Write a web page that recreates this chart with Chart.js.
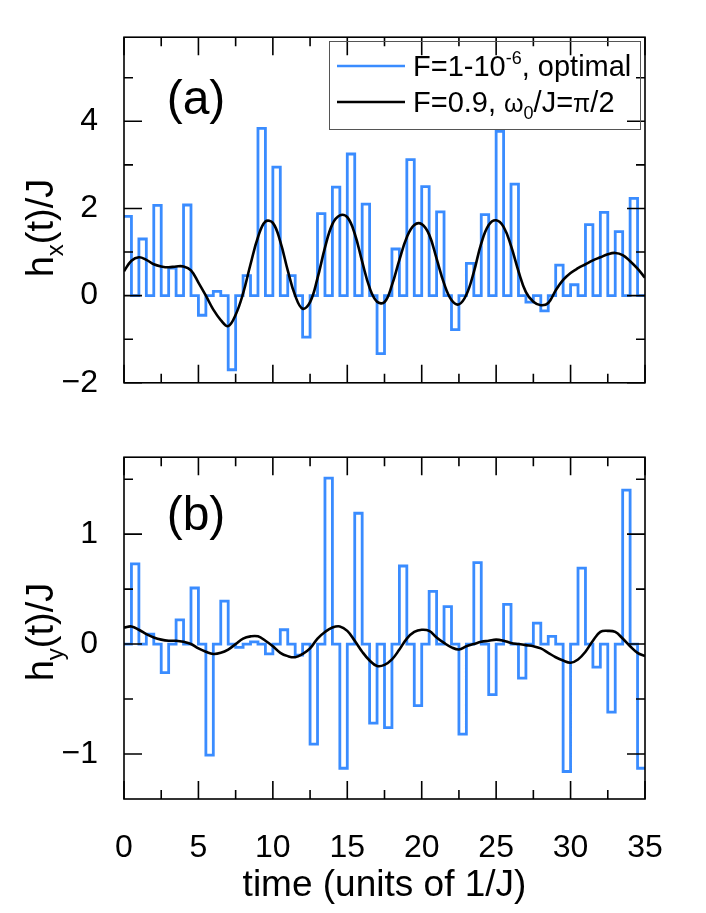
<!DOCTYPE html>
<html>
<head>
<meta charset="utf-8">
<script src="https://cdn.jsdelivr.net/npm/chart.js@4.4.1/dist/chart.umd.min.js"></script>
<style>
  body { margin: 0; background: #fff; }
  #wrap { position: relative; width: 706px; height: 913px; }
  canvas { position: absolute; left: 0; }
</style>
</head>
<body>
<div id="wrap">
  <canvas id="panelA" width="706" height="420" style="top:0"></canvas>
  <canvas id="panelB" width="706" height="493" style="top:420px"></canvas>
</div>
<script>
// pulse amplitudes, one per unit of time: hx on [k, k+0.5], hy on [k+0.5, k+1]
const hxPulse = [1.82, 1.30, 2.07, 0.63, 2.08, -0.45, 0.10, -1.70, 0.46, 3.84,
                 2.95, 0.46, -0.95, 1.88, 2.49, 3.25, 2.10, -1.33, 1.07, 3.12,
                 2.50, 1.92, -0.78, 0.74, 1.86, 3.77, 2.56, -0.15, -0.35, 0.70,
                 0.25, 1.63, 1.91, 1.47, 2.23];
const hyPulse = [0.73, 0.09, -0.26, 0.22, 0.51, -1.01, 0.39, -0.03, 0.02, -0.09,
                 0.13, -0.10, -0.91, 1.51, -1.13, 1.19, -0.72, -0.76, 0.71, -0.56,
                 0.48, 0.34, -0.82, 0.74, -0.46, 0.36, -0.31, 0.19, 0.07, -1.16,
                 0.69, -0.21, -0.62, 1.40, -1.13];

// smooth control (F=0.9)
const curveTime = [0, 0.5, 1, 1.5, 2, 2.5, 3, 3.5, 4, 4.5, 5, 5.5, 6, 6.5, 7, 7.5, 8, 8.5, 9, 9.5,
                   10, 10.5, 11, 11.5, 12, 12.5, 13, 13.5, 14, 14.5, 15, 15.5, 16, 16.5, 17, 17.5,
                   18, 18.5, 19, 19.5, 20, 20.5, 21, 21.5, 22, 22.5, 23, 23.5, 24, 24.5, 25, 25.5,
                   26, 26.5, 27, 27.5, 28, 28.5, 29, 29.5, 30, 30.5, 31, 31.5, 32, 32.5, 33, 33.5,
                   34, 34.5, 35];
const hxCurve = [0.56, 0.80, 0.88, 0.82, 0.72, 0.67, 0.65, 0.67, 0.67, 0.58,
                 0.30, 0.00, -0.32, -0.56, -0.70, -0.44, 0.05, 0.72, 1.34, 1.70,
                 1.67, 1.24, 0.58, 0.00, -0.30, -0.15, 0.40, 1.10, 1.64, 1.84,
                 1.80, 1.42, 0.78, 0.18, -0.14, -0.15, 0.24, 0.82, 1.34, 1.62,
                 1.64, 1.40, 0.85, 0.28, -0.10, -0.20, 0.02, 0.54, 1.20, 1.62,
                 1.73, 1.58, 1.14, 0.56, 0.08, -0.14, -0.22, -0.17, 0.12, 0.36,
                 0.52, 0.63, 0.72, 0.81, 0.88, 0.95, 0.98, 0.93, 0.79, 0.62,
                 0.41];
const hyCurve = [0.15, 0.16, 0.13, 0.09, 0.06, 0.04, 0.03, 0.03, 0.02, 0.00,
                 -0.04, -0.07, -0.09, -0.08, -0.05, 0.00, 0.05, 0.07, 0.07, 0.03,
                 -0.02, -0.08, -0.11, -0.12, -0.09, -0.04, 0.05, 0.11, 0.15, 0.16,
                 0.12, 0.03, -0.07, -0.15, -0.20, -0.19, -0.14, -0.05, 0.05, 0.11,
                 0.13, 0.12, 0.06, 0.01, -0.03, -0.05, -0.02, 0.00, 0.02, 0.03,
                 0.04, 0.03, 0.01, 0.00, -0.01, -0.02, -0.04, -0.08, -0.12, -0.15,
                 -0.17, -0.14, -0.07, 0.03, 0.11, 0.12, 0.11, 0.05, -0.02, -0.08,
                 -0.11];

const xLabels = [0, 5, 10, 15, 20, 25, 30, 35];
const xMinor = [2.5, 7.5, 12.5, 17.5, 22.5, 27.5, 32.5];
const yLabelsA = [-2, 0, 2, 4];
const yMinorA = [-1, 1, 3, 5];
const yLabelsB = [-1, 0, 1];
const yMinorB = [-0.5, 0.5, 1.5];

const FONT = '"Liberation Sans", Arial, sans-serif';
const BLUE = '#3a8cff';

// step points: value held from t to the next point
function stepPoints(vals, offset) {
  const pts = [];
  if (offset > 0) pts.push({x: 0, y: 0});
  vals.forEach((v, k) => {
    pts.push({x: k + offset, y: v});
    if (k + offset + 0.5 < 35) pts.push({x: k + offset + 0.5, y: 0});
  });
  pts.push({x: 35, y: pts[pts.length - 1].y});
  return pts;
}
function curvePoints(vals) {
  return curveTime.map((t, i) => ({x: t, y: vals[i]}));
}

// draws a run of [text, kind] pieces, kind: 'n' normal, 's' slightly smaller, 'sup', 'sub'
function richText(ctx, parts, x, y, size, align) {
  const sz = k => k === 'n' ? size : k === 's' ? Math.round(size * 0.85) : Math.round(size * 0.62);
  const w = parts.reduce((s, p) => {
    ctx.font = sz(p[1]) + 'px ' + FONT;
    return s + ctx.measureText(p[0]).width;
  }, 0);
  let cx = align === 'center' ? x - w / 2 : x;
  ctx.textAlign = 'left';
  ctx.textBaseline = 'alphabetic';
  parts.forEach(p => {
    ctx.font = sz(p[1]) + 'px ' + FONT;
    let dy = 0;
    if (p[1] === 'sup') dy = -size * 0.42;
    if (p[1] === 'sub') dy = size * 0.25;
    ctx.fillText(p[0], cx, y + dy);
    cx += ctx.measureText(p[0]).width;
  });
}

const frameTicks = {
  id: 'frameTicks',
  afterDatasetsDraw(chart, args, o) {
    const {ctx, chartArea: a, scales: {x, y}} = chart;
    ctx.save();
    ctx.strokeStyle = '#000';
    ctx.fillStyle = '#000';
    ctx.lineWidth = 1.6;
    ctx.strokeRect(a.left, a.top, a.width, a.height);
    ctx.beginPath();
    const tickX = (v, len) => {
      const p = x.getPixelForValue(v);
      ctx.moveTo(p, a.bottom); ctx.lineTo(p, a.bottom - len);
      ctx.moveTo(p, a.top); ctx.lineTo(p, a.top + len);
    };
    const tickY = (v, len) => {
      const p = y.getPixelForValue(v);
      ctx.moveTo(a.left, p); ctx.lineTo(a.left + len, p);
      ctx.moveTo(a.right, p); ctx.lineTo(a.right - len, p);
    };
    xLabels.forEach(v => tickX(v, 18));
    xMinor.forEach(v => tickX(v, 9));
    o.yMajor.forEach(v => tickY(v, 18));
    o.yMinor.forEach(v => tickY(v, 9));
    ctx.stroke();

    ctx.font = '48px ' + FONT;
    ctx.textAlign = 'center';
    ctx.textBaseline = 'middle';
    ctx.fillText(o.panel, a.left + 72, a.top + o.panelDy);

    ctx.save();
    ctx.translate(40, o.titleY);
    ctx.rotate(-Math.PI / 2);
    richText(ctx, o.title, 0, 13, 38, 'center');
    ctx.restore();

    if (o.legend) {
      ctx.lineWidth = 1;
      ctx.strokeStyle = '#555';
      ctx.strokeRect(329.5, 41.5, 311, 88);
      const ds = chart.data.datasets;
      const rows = [[66, ds[0].borderColor, [['F=1-10', 'n'], ['-6', 'sup'], [', optimal', 'n']]],
                    [102, ds[1].borderColor, [['F=0.9, ', 'n'], ['\u03c9', 's'], ['0', 'sub'], ['/J=', 'n'], ['\u03c0', 's'], ['/2', 'n']]]];
      rows.forEach(r => {
        ctx.strokeStyle = r[1];
        ctx.lineWidth = 2.5;
        ctx.beginPath();
        ctx.moveTo(337, r[0]); ctx.lineTo(405, r[0]);
        ctx.stroke();
        richText(ctx, r[2], 413, r[0] + 10, 29, 'left');
      });
    }
    ctx.restore();
  }
};

const tickText = v => String(v).replace('-', '\u2212');

function makeChart(id, pulses, offset, curve, yMin, yMax, yLabels, xAxis, pad, plug) {
  return new Chart(document.getElementById(id), {
    type: 'line',
    data: {
      datasets: [{
        label: 'F=1-10^-6, optimal',
        data: stepPoints(pulses, offset),
        stepped: true,
        borderColor: BLUE,
        borderWidth: 2.8,
        pointRadius: 0,
        fill: false,
        order: 2
      }, {
        label: 'F=0.9, w0/J=pi/2',
        data: curvePoints(curve),
        borderColor: '#000',
        borderWidth: 2.6,
        tension: 0.4,
        pointRadius: 0,
        fill: false,
        order: 1
      }]
    },
    options: {
      responsive: false,
      devicePixelRatio: 1,
      animation: false,
      layout: {padding: pad},
      plugins: {legend: {display: false}, tooltip: {enabled: false}, frameTicks: plug},
      scales: {
        x: xAxis,
        y: {
          type: 'linear', min: yMin, max: yMax,
          afterBuildTicks: s => { s.ticks = yLabels.map(v => ({value: v})); },
          afterFit: s => { s.width = 124; },
          grid: {display: false}, border: {display: false},
          ticks: {color: '#000', padding: 18, callback: tickText, font: {family: FONT, size: 32}}
        }
      }
    },
    plugins: [frameTicks]
  });
}

makeChart('panelA', hxPulse, 0, hxCurve, -2, 5.93, yLabelsA,
  {type: 'linear', min: 0, max: 35, display: false},
  {left: 0, right: 61, top: 36, bottom: 23},
  {panel: '(a)', panelDy: 64, yMajor: yLabelsA, yMinor: yMinorA, title: [['h', 'n'], ['x', 'sub'], ['(t)/J', 'n']], titleY: 228, legend: true});

makeChart('panelB', hyPulse, 0.5, hyCurve, -1.41, 1.70, yLabelsB,
  {type: 'linear', min: 0, max: 35,
   afterBuildTicks: s => { s.ticks = xLabels.map(v => ({value: v})); },
   afterFit: s => { s.height = 114; },
   grid: {display: false}, border: {display: false},
   ticks: {color: '#000', padding: 22, maxRotation: 0, font: {family: FONT, size: 32}},
   title: {display: true, text: 'time (units of 1/J)', color: '#000', padding: {top: 0, bottom: 5}, font: {family: FONT, size: 37}}},
  {left: 0, right: 61, top: 19, bottom: 0},
  {panel: '(b)', panelDy: 60, yMajor: yLabelsB, yMinor: yMinorB, title: [['h', 'n'], ['y', 'sub'], ['(t)/J', 'n']], titleY: 212, legend: false});
</script>
</body>
</html>
